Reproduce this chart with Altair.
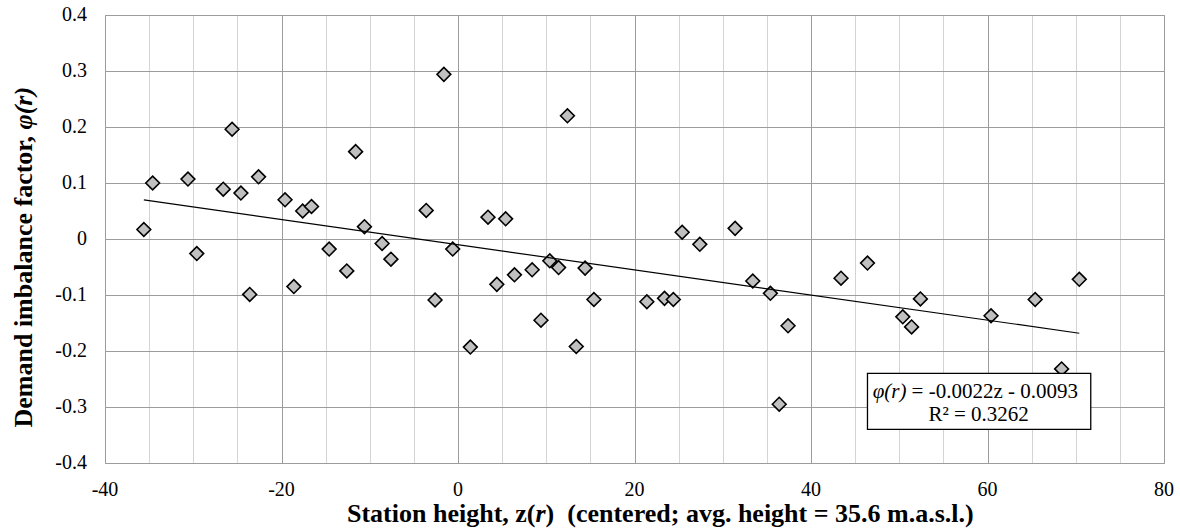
import altair as alt
import pandas as pd

# Station height (centered) and demand imbalance factor
heights = [-35.6, -34.6, -30.6, -29.6, -26.6, -25.6, -24.6, -23.6, -22.6, -19.6,
           -18.6, -17.6, -16.6, -14.6, -12.6, -11.6, -10.6, -8.6, -7.6, -3.6,
           -2.6, -1.6, -0.6, 1.4, 3.4, 4.4, 5.4, 6.4, 8.4, 9.4,
           10.4, 11.4, 12.4, 13.4, 14.4, 15.4, 21.4, 23.4, 24.4, 25.4,
           27.4, 31.4, 33.4, 35.4, 36.4, 37.4, 43.4, 46.4, 50.4, 51.4,
           52.4, 60.4, 65.4, 68.4, 70.4]
phi = [0.017, 0.100, 0.107, -0.026, 0.089, 0.196, 0.082, -0.099, 0.111, 0.070,
       -0.085, 0.050, 0.058, -0.018, -0.057, 0.156, 0.022, -0.008, -0.036, 0.051,
       -0.109, 0.294, -0.018, -0.193, 0.039, -0.081, 0.036, -0.064, -0.055, -0.145,
       -0.039, -0.051, 0.220, -0.192, -0.052, -0.108, -0.112, -0.106, -0.108, 0.012,
       -0.0095, 0.019, -0.075, -0.097, -0.295, -0.155, -0.070, -0.043, -0.139, -0.157,
       -0.107, -0.137, -0.108, -0.232, -0.072]

x_grid = list(range(-40, 85, 5))
x_labels = ["-40", "-20", "0", "20", "40", "60", "80"]
y_ticks = [-0.4, -0.3, -0.2, -0.1, 0.0, 0.1, 0.2, 0.3, 0.4]
y_labels = ["-0.4", "-0.3", "-0.2", "-0.1", "0", "0.1", "0.2", "0.3", "0.4"]

eq_label = ["φ(r)", "= -0.0022z - 0.0093"]
r2_label = "R² = 0.3262"

x_title = ["Station height, z(", "r", ")\u00a0 (centered; avg. height = 35.6 m.a.s.l.)"]
y_title = ["Demand imbalance factor,", "φ(r)"]

SERIF = "Liberation Serif"

df = pd.DataFrame({"z": heights, "phi": phi})

xs = alt.Scale(domain=[-40, 80], nice=False, zero=False)
ys = alt.Scale(domain=[-0.4, 0.4], nice=False, zero=False)

x_axis = alt.Axis(
    values=x_grid, title=None, grid=True,
    gridColor={"condition": {"test": "datum.value % 20 === 0", "value": "#9c9c9c"},
               "value": "#d4d4d4"},
    gridWidth=1, ticks=False, domain=False, labels=False,
)
y_axis = alt.Axis(
    values=y_ticks, title=None, grid=True, gridColor="#9c9c9c", gridWidth=1,
    ticks=False, domain=False, labels=False,
)

points = alt.Chart(df).mark_point(
    shape="diamond", filled=True, fill="#c0c0c0", stroke="black",
    strokeWidth=1.6, size=190, opacity=1,
).encode(
    x=alt.X("z:Q", scale=xs, axis=x_axis),
    y=alt.Y("phi:Q", scale=ys, axis=y_axis),
)

trend = alt.Chart(df).transform_regression("z", "phi").mark_line(
    color="black", strokeWidth=1.2
).encode(x=alt.X("z:Q", scale=xs, axis=x_axis), y=alt.Y("phi:Q", scale=ys, axis=y_axis))

# tick labels (drawn as serif text)
xlab_df = pd.DataFrame({"v": [int(s) for s in x_labels], "t": x_labels})
xlab = alt.Chart(xlab_df).mark_text(
    font=SERIF, fontSize=20, align="center", baseline="alphabetic", color="black"
).encode(x=alt.X("v:Q", scale=xs, axis=x_axis), y=alt.value(481), text="t:N")

ylab_df = pd.DataFrame({"v": y_ticks, "t": y_labels})
ylab = alt.Chart(ylab_df).mark_text(
    font=SERIF, fontSize=20, align="right", baseline="middle", color="black"
).encode(x=alt.value(-18), y=alt.Y("v:Q", scale=ys, axis=y_axis), text="t:N")

box_df = pd.DataFrame({"x1": [46.4], "x2": [71.7], "y1": [-0.240], "y2": [-0.340]})
box = alt.Chart(box_df).mark_rect(fill="white", stroke="black", strokeWidth=1.3).encode(
    x=alt.X("x1:Q", scale=xs, axis=x_axis), x2="x2:Q",
    y=alt.Y("y1:Q", scale=ys, axis=y_axis), y2="y2:Q",
)

def eq_piece(text, x, y, align, style):
    return alt.Chart(pd.DataFrame({"t": [text], "x": [x], "y": [y]})).mark_text(
        font=SERIF, fontSize=21, fontStyle=style, align=align,
        baseline="alphabetic", color="black",
    ).encode(x=alt.X("x:Q", scale=xs, axis=x_axis),
             y=alt.Y("y:Q", scale=ys, axis=y_axis), text="t:N")

eq1a = eq_piece(eq_label[0], 50.82, -0.284, "right", "italic")
eq1b = eq_piece(eq_label[1], 51.4, -0.284, "left", "normal")
eq2 = eq_piece(r2_label, 59.0, -0.3245, "center", "normal")

# axis titles with mixed styles (pixel positions relative to plot origin)
def title_piece(text, px, py, align, style, angle=0):
    return alt.Chart(pd.DataFrame({"t": [text], "px": [px], "py": [py]})).mark_text(
        font=SERIF, fontSize=26, fontWeight="bold", fontStyle=style,
        align=align, baseline="alphabetic", angle=angle, color="black",
    ).encode(
        x=alt.X("px:Q", scale=None, axis=None),
        y=alt.Y("py:Q", scale=None, axis=None),
        text="t:N",
    )

xt1 = title_piece(x_title[0], 430.5, 507, "right", "normal")
xt2 = title_piece(x_title[1], 430.5, 507, "left", "italic")
xt3 = title_piece(x_title[2], 440.6, 507, "left", "normal")

yt1 = title_piece(y_title[0], -73.5, 121, "right", "normal", angle=270)
yt2 = title_piece(y_title[1], -73.5, 114.5, "left", "italic", angle=270)

chart = alt.layer(
    points, trend, box, eq1a, eq1b, eq2, xlab, ylab, xt1, xt2, xt3, yt1, yt2
).properties(
    width=1059, height=448,
    autosize=alt.AutoSizeParams(type="none"),
    padding={"left": 105, "top": 15, "right": 16, "bottom": 65},
    background="white",
).configure_view(
    stroke="#9c9c9c", strokeWidth=1
)

chart.save("out.html", embed_options={"renderer": "svg", "actions": False})
